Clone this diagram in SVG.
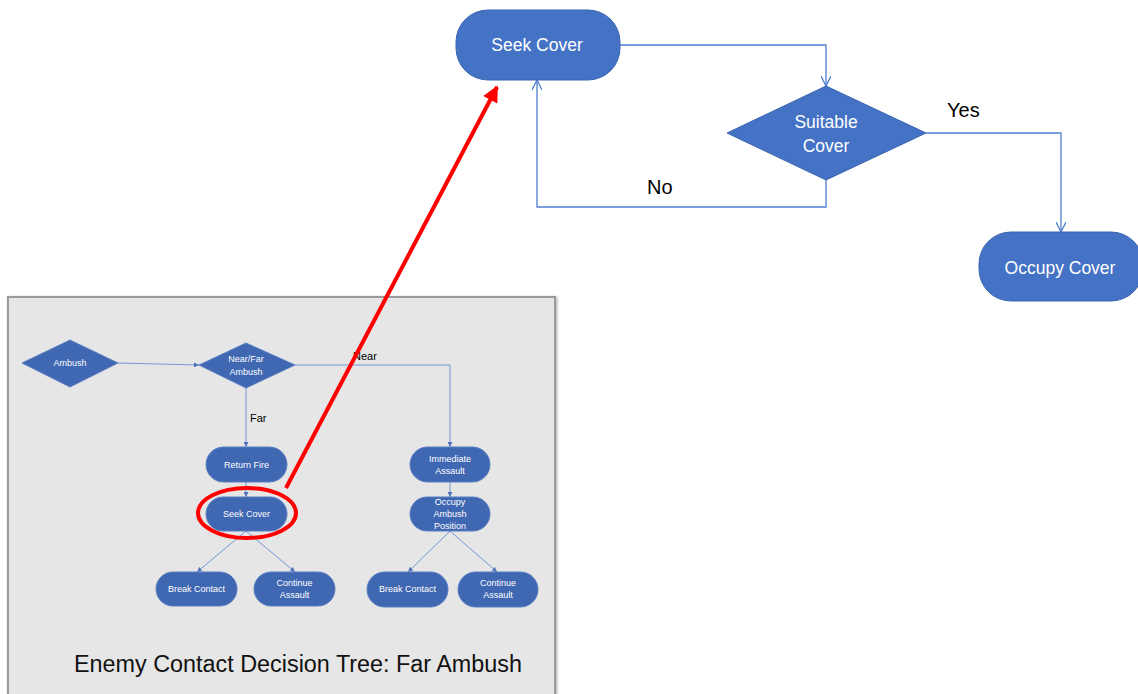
<svg xmlns="http://www.w3.org/2000/svg" width="1138" height="694" viewBox="0 0 1138 694">
<defs>
<style>
.big{fill:#4472c4;stroke:#3a64b0;stroke-width:1}
.sm{fill:#3f67b2;stroke:#5a7fc2;stroke-width:1}
.bt{font-family:"Liberation Sans",Arial,sans-serif;font-size:17.5px;fill:#ffffff;text-anchor:middle}
.st{font-family:"Liberation Sans",Arial,sans-serif;font-size:9px;fill:#ffffff;text-anchor:middle}
.lbl{font-family:"Liberation Sans",Arial,sans-serif;font-size:20px;fill:#000000}
.slbl{font-family:"Liberation Sans",Arial,sans-serif;font-size:11px;fill:#000000}
.bc{fill:none;stroke:#4f7fd0;stroke-width:1.3}
.sc{fill:none;stroke:#7396d4;stroke-width:1}
</style>
<marker id="vopen" viewBox="0 0 10 10" refX="10" refY="5" markerWidth="11" markerHeight="10" markerUnits="userSpaceOnUse" orient="auto">
<path d="M0,0 L10,5 L0,10" fill="none" stroke="#4f7fd0" stroke-width="1.3"/>
</marker>
<marker id="tiny" viewBox="0 0 10 10" refX="10" refY="5" markerWidth="5" markerHeight="5" markerUnits="userSpaceOnUse" orient="auto">
<path d="M0,0 L10,5 L0,10 z" fill="#4f72b8"/>
</marker>
<marker id="redhead" viewBox="0 0 10 10" refX="9" refY="5" markerWidth="20" markerHeight="16" markerUnits="userSpaceOnUse" orient="auto">
<path d="M0,0 L10,5 L0,10 z" fill="#ff0000"/>
</marker>
<filter id="shadow" x="-5%" y="-5%" width="110%" height="110%">
<feDropShadow dx="1" dy="1" stdDeviation="1.5" flood-color="#000" flood-opacity="0.35"/>
</filter>
</defs>
<rect width="1138" height="694" fill="#ffffff"/>

<g id="inset-panel">
<rect x="8" y="297" width="547" height="400" fill="#e6e6e6" stroke="#9a9a9a" stroke-width="2" filter="url(#shadow)"/>
<text x="298" y="672" font-family="Liberation Sans,Arial,sans-serif" font-size="23" fill="#111" text-anchor="middle" textLength="448" lengthAdjust="spacingAndGlyphs">Enemy Contact Decision Tree: Far Ambush</text>
</g>

<g id="inset-connectors">
<path class="sc" d="M118,363 L199,365" marker-end="url(#tiny)"/>
<path class="sc" d="M246,388 L246,447" marker-end="url(#tiny)"/>
<path class="sc" d="M295,365 L450,365 L450,447" marker-end="url(#tiny)"/>
<path class="sc" d="M246,482 L246,497" marker-end="url(#tiny)"/>
<path class="sc" d="M450,482 L450,497" marker-end="url(#tiny)"/>
<path class="sc" d="M246,531 L197,572" marker-end="url(#tiny)"/>
<path class="sc" d="M246,531 L295,572" marker-end="url(#tiny)"/>
<path class="sc" d="M450,531 L408,572" marker-end="url(#tiny)"/>
<path class="sc" d="M450,531 L497,572" marker-end="url(#tiny)"/>
<text class="slbl" x="250" y="422">Far</text>
<text class="slbl" x="353" y="360">Near</text>
</g>

<g id="inset-ambush">
<polygon class="sm" points="22,363 70,340 118,363 70,387"/>
<text class="st" x="70" y="366">Ambush</text>
</g>
<g id="inset-nearfar">
<polygon class="sm" points="199,365 246,343 295,365 246,388"/>
<text class="st" x="246" y="362">Near/Far</text>
<text class="st" x="246" y="375">Ambush</text>
</g>
<g id="inset-returnfire">
<rect class="sm" x="206" y="447" width="81" height="35" rx="17.5"/>
<text class="st" x="246.5" y="468">Return Fire</text>
</g>
<g id="inset-seekcover">
<rect class="sm" x="206" y="497" width="81" height="34" rx="17"/>
<text class="st" x="246.5" y="517">Seek Cover</text>
</g>
<g id="inset-break1">
<rect class="sm" x="156" y="572" width="81" height="34" rx="17"/>
<text class="st" x="196.5" y="592">Break Contact</text>
</g>
<g id="inset-continue1">
<rect class="sm" x="254" y="572" width="81" height="34" rx="17"/>
<text class="st" x="294.5" y="586">Continue</text>
<text class="st" x="294.5" y="598">Assault</text>
</g>
<g id="inset-immediate">
<rect class="sm" x="410" y="447" width="80" height="35" rx="17.5"/>
<text class="st" x="450" y="462">Immediate</text>
<text class="st" x="450" y="474">Assault</text>
</g>
<g id="inset-occupy">
<rect class="sm" x="410" y="497" width="80" height="34" rx="17"/>
<text class="st" x="450" y="505">Occupy</text>
<text class="st" x="450" y="517">Ambush</text>
<text class="st" x="450" y="529">Position</text>
</g>
<g id="inset-break2">
<rect class="sm" x="367" y="572" width="81" height="35" rx="17.5"/>
<text class="st" x="407.5" y="592">Break Contact</text>
</g>
<g id="inset-continue2">
<rect class="sm" x="458" y="572" width="80" height="35" rx="17.5"/>
<text class="st" x="498" y="586">Continue</text>
<text class="st" x="498" y="598">Assault</text>
</g>

<g id="connectors">
<path class="bc" d="M620,45 L826,45 L826,86" marker-end="url(#vopen)"/>
<path class="bc" d="M926,133 L1061,133 L1061,232" marker-end="url(#vopen)"/>
<path class="bc" d="M826,180 L826,207 L537,207 L537,80" marker-end="url(#vopen)"/>
<text class="lbl" x="947" y="117">Yes</text>
<text class="lbl" x="647" y="194">No</text>
</g>

<g id="seek-cover">
<rect class="big" x="456" y="10" width="164" height="70" rx="32"/>
<text class="bt" x="537" y="51">Seek Cover</text>
</g>
<g id="suitable-cover">
<polygon class="big" points="727,133 826,86 926,133 826,180"/>
<text class="bt" x="826" y="128">Suitable</text>
<text class="bt" x="826" y="152">Cover</text>
</g>
<g id="occupy-cover">
<rect class="big" x="979" y="232" width="164" height="69" rx="32"/>
<text class="bt" x="1060" y="274">Occupy Cover</text>
</g>

<g id="highlight">
<ellipse cx="247" cy="513" rx="49" ry="25" fill="none" stroke="#ff0000" stroke-width="4"/>
<line x1="286" y1="488" x2="497" y2="87" stroke="#ff0000" stroke-width="4" marker-end="url(#redhead)"/>
</g>
</svg>
